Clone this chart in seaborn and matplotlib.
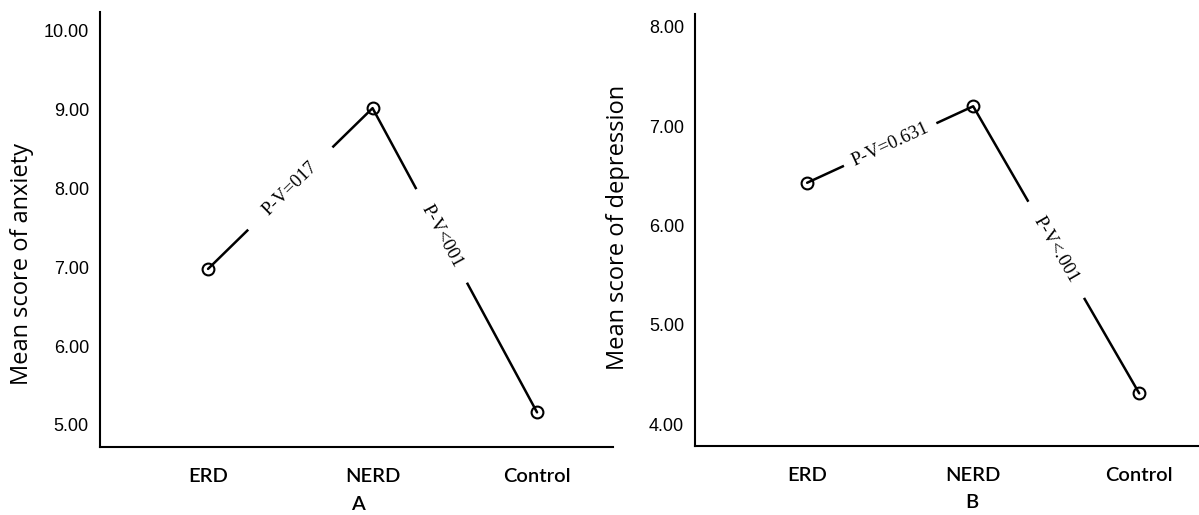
import numpy as np
import pandas as pd
import matplotlib
matplotlib.use("Agg")
import matplotlib.pyplot as plt
import seaborn as sns

# dados
groups = ["ERD", "NERD", "Control"]
anxiety = [6.98, 9.02, 5.16]
depression = [6.43, 7.20, 4.31]
anx_ticks = [5.0, 6.0, 7.0, 8.0, 9.0, 10.0]
dep_ticks = [4.0, 5.0, 6.0, 7.0, 8.0]
anx_pvals = ["P-V=017", "P-V<001"]
dep_pvals = ["P-V=0.631", "P-V<.001"]

sns.set_theme(style="white")
plt.rcParams["font.family"] = ["Liberation Sans", "DejaVu Sans"]

fig = plt.figure(figsize=(11.99, 5.15), dpi=100)
ax1 = fig.add_axes([0.0834, 0.132, 0.4279, 0.8447])
ax2 = fig.add_axes([0.5797, 0.134, 0.4203, 0.839])


def draw_panel(ax, values, yticks, ylim, xlim, ylabel, letter, pvals, ylab_pos, letter_x, frac, pads):
    df = pd.DataFrame({"group": groups, "score": values})
    sns.pointplot(data=df, x="group", y="score", ax=ax, color="black",
                  markers="o", linewidth=1.8, markersize=8.5,
                  markerfacecolor="none", markeredgewidth=1.5, errorbar=None)
    ax.set_xlim(*xlim)
    ax.set_ylim(*ylim)
    ax.set_yticks(yticks)
    ax.set_yticklabels([f"{t:.2f}" for t in yticks], fontsize=13)
    ax.set_xticks(range(len(groups)))
    ax.set_xticklabels(groups, fontsize=14.5, family="Lato", fontweight="semibold")
    for s in ["top", "right"]:
        ax.spines[s].set_visible(False)
    for s in ["left", "bottom"]:
        ax.spines[s].set_color("black")
        ax.spines[s].set_linewidth(1.5)
    ax.tick_params(axis="y", direction="out", length=8, width=1.5, pad=0, colors="black")
    ax.tick_params(axis="x", direction="out", length=5, width=1.5, pad=10, colors="black")
    ax.set_ylabel(ylabel, fontsize=17, family="Open Sans", color="black")
    ax.yaxis.set_label_coords(*ylab_pos)
    ax.set_xlabel(letter, fontsize=14.5, family="Lato", fontweight="semibold", color="black")
    ax.xaxis.set_label_coords(letter_x, -0.112)

    # anotacoes de p-valor ao longo de cada segmento
    for i, txt in enumerate(pvals):
        f = frac[i]
        xm = i + f
        ym = values[i] + f * (values[i + 1] - values[i])
        p0 = ax.transData.transform((i, values[i]))
        p1 = ax.transData.transform((i + 1, values[i + 1]))
        ang = np.degrees(np.arctan2(p1[1] - p0[1], p1[0] - p0[0]))
        ax.text(xm, ym, txt, rotation=ang, rotation_mode="anchor",
                ha="center", va="center", fontsize=13.5, family="Liberation Serif",
                color="black", zorder=10,
                bbox=dict(boxstyle=f"square,pad={pads[i]}", fc="white", ec="none"))


draw_panel(ax1, anxiety, anx_ticks, (4.72, 10.24), (-0.657, 2.462),
           "Mean score of anxiety", "A", anx_pvals, (-0.128, 0.42), 0.503,
           [0.5, 0.42], [1.3, 1.0])
draw_panel(ax2, depression, dep_ticks, (3.78, 8.13), (-0.675, 2.36),
           "Mean score of depression", "B", dep_pvals, (-0.13, 0.505), 0.55,
           [0.5, 0.5], [0.5, 1.0])

fig.savefig("out.png", dpi=100, facecolor="white")
